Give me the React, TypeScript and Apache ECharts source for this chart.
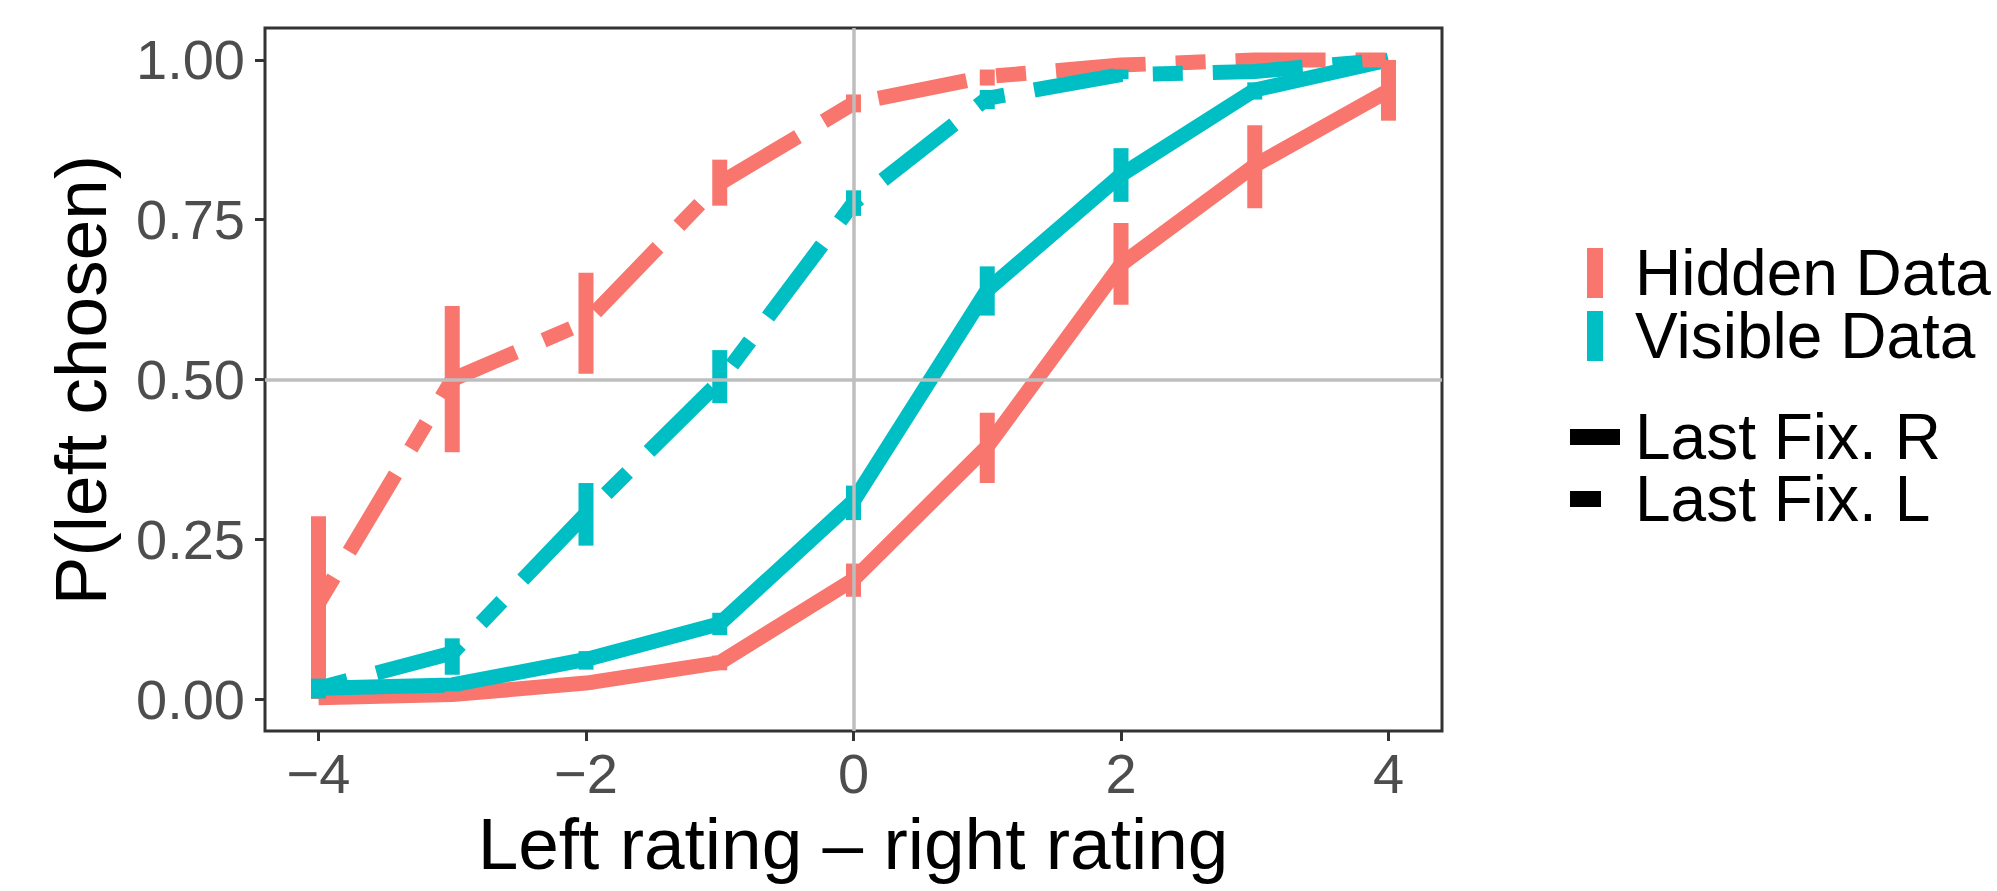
import React, { useEffect, useRef } from "react";
import * as echarts from "echarts";

// ---- data ----
const ratingDiff = [-4, -3, -2, -1, 0, 1, 2, 3, 4];

// Hidden Data, last fixation right (solid)
const hiddenR = [0.002, 0.007, 0.025, 0.057, 0.187, 0.395, 0.68, 0.835, 0.952];
const hiddenRLo = [0.0, 0.0, 0.015, 0.045, 0.16, 0.338, 0.617, 0.768, 0.905];
const hiddenRHi = [0.005, 0.014, 0.035, 0.068, 0.212, 0.448, 0.745, 0.898, 1.0];

// Visible Data, last fixation right (solid)
const visibleR = [0.017, 0.022, 0.062, 0.118, 0.31, 0.64, 0.82, 0.953, 1.0];
const visibleRLo = [0.005, 0.012, 0.046, 0.1, 0.28, 0.6, 0.778, 0.938, 1.0];
const visibleRHi = [0.03, 0.032, 0.075, 0.135, 0.334, 0.677, 0.862, 0.965, 1.0];

// Hidden Data, last fixation left (twodash)
const hiddenL = [0.15, 0.5, 0.59, 0.807, 0.932, 0.974, 0.992, 1.0, 1.0];
const hiddenLLo = [0.0, 0.386, 0.509, 0.772, 0.918, 0.96, 0.985, 1.0, 1.0];
const hiddenLHi = [0.286, 0.615, 0.667, 0.844, 0.946, 0.985, 1.0, 1.0, 1.0];

// Visible Data, last fixation left (twodash)
const visibleL = [0.017, 0.072, 0.29, 0.497, 0.776, 0.94, 0.977, 0.982, 1.0];
const visibleLLo = [0.001, 0.038, 0.24, 0.463, 0.756, 0.923, 0.97, 0.975, 1.0];
const visibleLHi = [0.032, 0.095, 0.338, 0.546, 0.796, 0.953, 0.985, 0.99, 1.0];

const xTicks = [-4, -2, 0, 2, 4];
const yTicks = [0, 0.25, 0.5, 0.75, 1];

const colourLabels = ["Hidden Data", "Visible Data"];
const linetypeLabels = ["Last Fix. R", "Last Fix. L"];

const RED = "#F8766D";
const CYAN = "#00BFC4";
const FONT = "'Liberation Sans', Arial, Helvetica, sans-serif";
const LW = 15;
const TWODASH = [2 * LW, 2 * LW, 6 * LW, 2 * LW];

const groups = [
  { name: "Hidden Data / Last Fix. R", color: RED, dash: false, mean: hiddenR, lo: hiddenRLo, hi: hiddenRHi },
  { name: "Visible Data / Last Fix. R", color: CYAN, dash: false, mean: visibleR, lo: visibleRLo, hi: visibleRHi },
  { name: "Hidden Data / Last Fix. L", color: RED, dash: true, mean: hiddenL, lo: hiddenLLo, hi: hiddenLHi },
  { name: "Visible Data / Last Fix. L", color: CYAN, dash: true, mean: visibleL, lo: visibleLLo, hi: visibleLHi },
];

export default function App() {
  const ref = useRef<HTMLDivElement>(null);

  useEffect(() => {
    if (!ref.current) return;
    const chart = echarts.init(ref.current, undefined, { renderer: "svg" });

    const lineSeries = groups.map((g) => ({
      type: "line",
      name: g.name,
      data: ratingDiff.map((x, i) => [x, g.mean[i]]),
      symbol: "none",
      z: 3,
      lineStyle: {
        color: g.color,
        width: LW,
        type: g.dash ? TWODASH : "solid",
        cap: "butt",
        join: "round",
      },
    }));

    const errorSeries = groups.map((g) => ({
      type: "custom",
      name: g.name + " CI",
      z: 4,
      data: ratingDiff.map((x, i) => [x, g.lo[i], g.hi[i]]),
      renderItem: (params: any, api: any) => {
        const p1 = api.coord([api.value(0), api.value(1)]);
        const p2 = api.coord([api.value(0), api.value(2)]);
        return {
          type: "line",
          shape: { x1: p1[0], y1: p1[1], x2: p2[0], y2: p2[1] },
          style: { stroke: g.color, lineWidth: LW, lineCap: "butt" },
        };
      },
    }));

    const refSeries = {
      type: "line",
      name: "ref",
      data: [],
      z: 1,
      silent: true,
      markLine: {
        silent: true,
        symbol: "none",
        label: { show: false },
        lineStyle: { color: "#BEBEBE", width: 3.5, type: "solid" },
        data: [{ xAxis: 0 }, { yAxis: 0.5 }],
      },
    };

    const legendGraphics: any[] = [];
    // colour legend (errorbar keys)
    const colourKeyY = [248, 311];
    [RED, CYAN].forEach((c, i) => {
      legendGraphics.push({
        type: "rect",
        shape: { x: 1587, y: colourKeyY[i], width: 16, height: 50 },
        style: { fill: c },
      });
      legendGraphics.push({
        type: "text",
        x: 1635,
        y: colourKeyY[i] + 25,
        style: {
          text: colourLabels[i],
          font: `64px ${FONT}`,
          lineHeight: 56,
          fill: "#000000",
          align: "left",
          verticalAlign: "middle",
        },
      });
    });
    // linetype legend
    const ltKeyY = [437, 499];
    const ltKeyW = [50, 31];
    ltKeyY.forEach((y, i) => {
      legendGraphics.push({
        type: "rect",
        shape: { x: 1570, y: y - 8, width: ltKeyW[i], height: 16 },
        style: { fill: "#000000" },
      });
      legendGraphics.push({
        type: "text",
        x: 1635,
        y: y,
        style: {
          text: linetypeLabels[i],
          font: `64px ${FONT}`,
          lineHeight: 56,
          fill: "#000000",
          align: "left",
          verticalAlign: "middle",
        },
      });
    });

    const option: any = {
      animation: false,
      backgroundColor: "#FFFFFF",
      grid: {
        left: 265,
        top: 28,
        width: 1177,
        height: 703,
        show: true,
        borderColor: "#333333",
        borderWidth: 3,
        backgroundColor: "transparent",
        containLabel: false,
      },
      xAxis: {
        type: "value",
        min: -4.4,
        max: 4.4,
        position: "bottom",
        axisLine: { show: false, onZero: false },
        splitLine: { show: false },
        axisTick: {
          show: true,
          inside: false,
          customValues: xTicks,
          length: 10,
          lineStyle: { color: "#333333", width: 3 },
        },
        axisLabel: {
          show: true,
          customValues: xTicks,
          margin: 14,
          color: "#4D4D4D",
          fontSize: 56,
          fontFamily: FONT,
          formatter: (v: number) => (v < 0 ? "\u2212" + Math.abs(v) : String(v)),
        },
      },
      yAxis: {
        type: "value",
        min: -0.05,
        max: 1.05,
        position: "left",
        axisLine: { show: false, onZero: false },
        splitLine: { show: false },
        axisTick: {
          show: true,
          inside: false,
          customValues: yTicks,
          length: 10,
          lineStyle: { color: "#333333", width: 3 },
        },
        axisLabel: {
          show: true,
          customValues: yTicks,
          margin: 20,
          color: "#4D4D4D",
          fontSize: 56,
          fontFamily: FONT,
          formatter: (v: number) => v.toFixed(2),
        },
      },
      graphic: [
        {
          type: "text",
          x: 853,
          y: 843,
          style: {
            text: "Left rating \u2013 right rating",
            font: `73px ${FONT}`,
            fill: "#000000",
            align: "center",
            verticalAlign: "middle",
          },
        },
        {
          type: "text",
          x: 80,
          y: 380,
          rotation: Math.PI / 2,
          style: {
            text: "P(left chosen)",
            font: `73px ${FONT}`,
            fill: "#000000",
            align: "center",
            verticalAlign: "middle",
          },
        },
        ...legendGraphics,
      ],
      series: [refSeries, ...lineSeries, ...errorSeries],
    };

    chart.setOption(option);
    return () => chart.dispose();
  }, []);

  return (
    <div
      ref={ref}
      style={{ position: "absolute", left: 0, top: 0, width: 1997, height: 891, background: "#fff" }}
    />
  );
}
